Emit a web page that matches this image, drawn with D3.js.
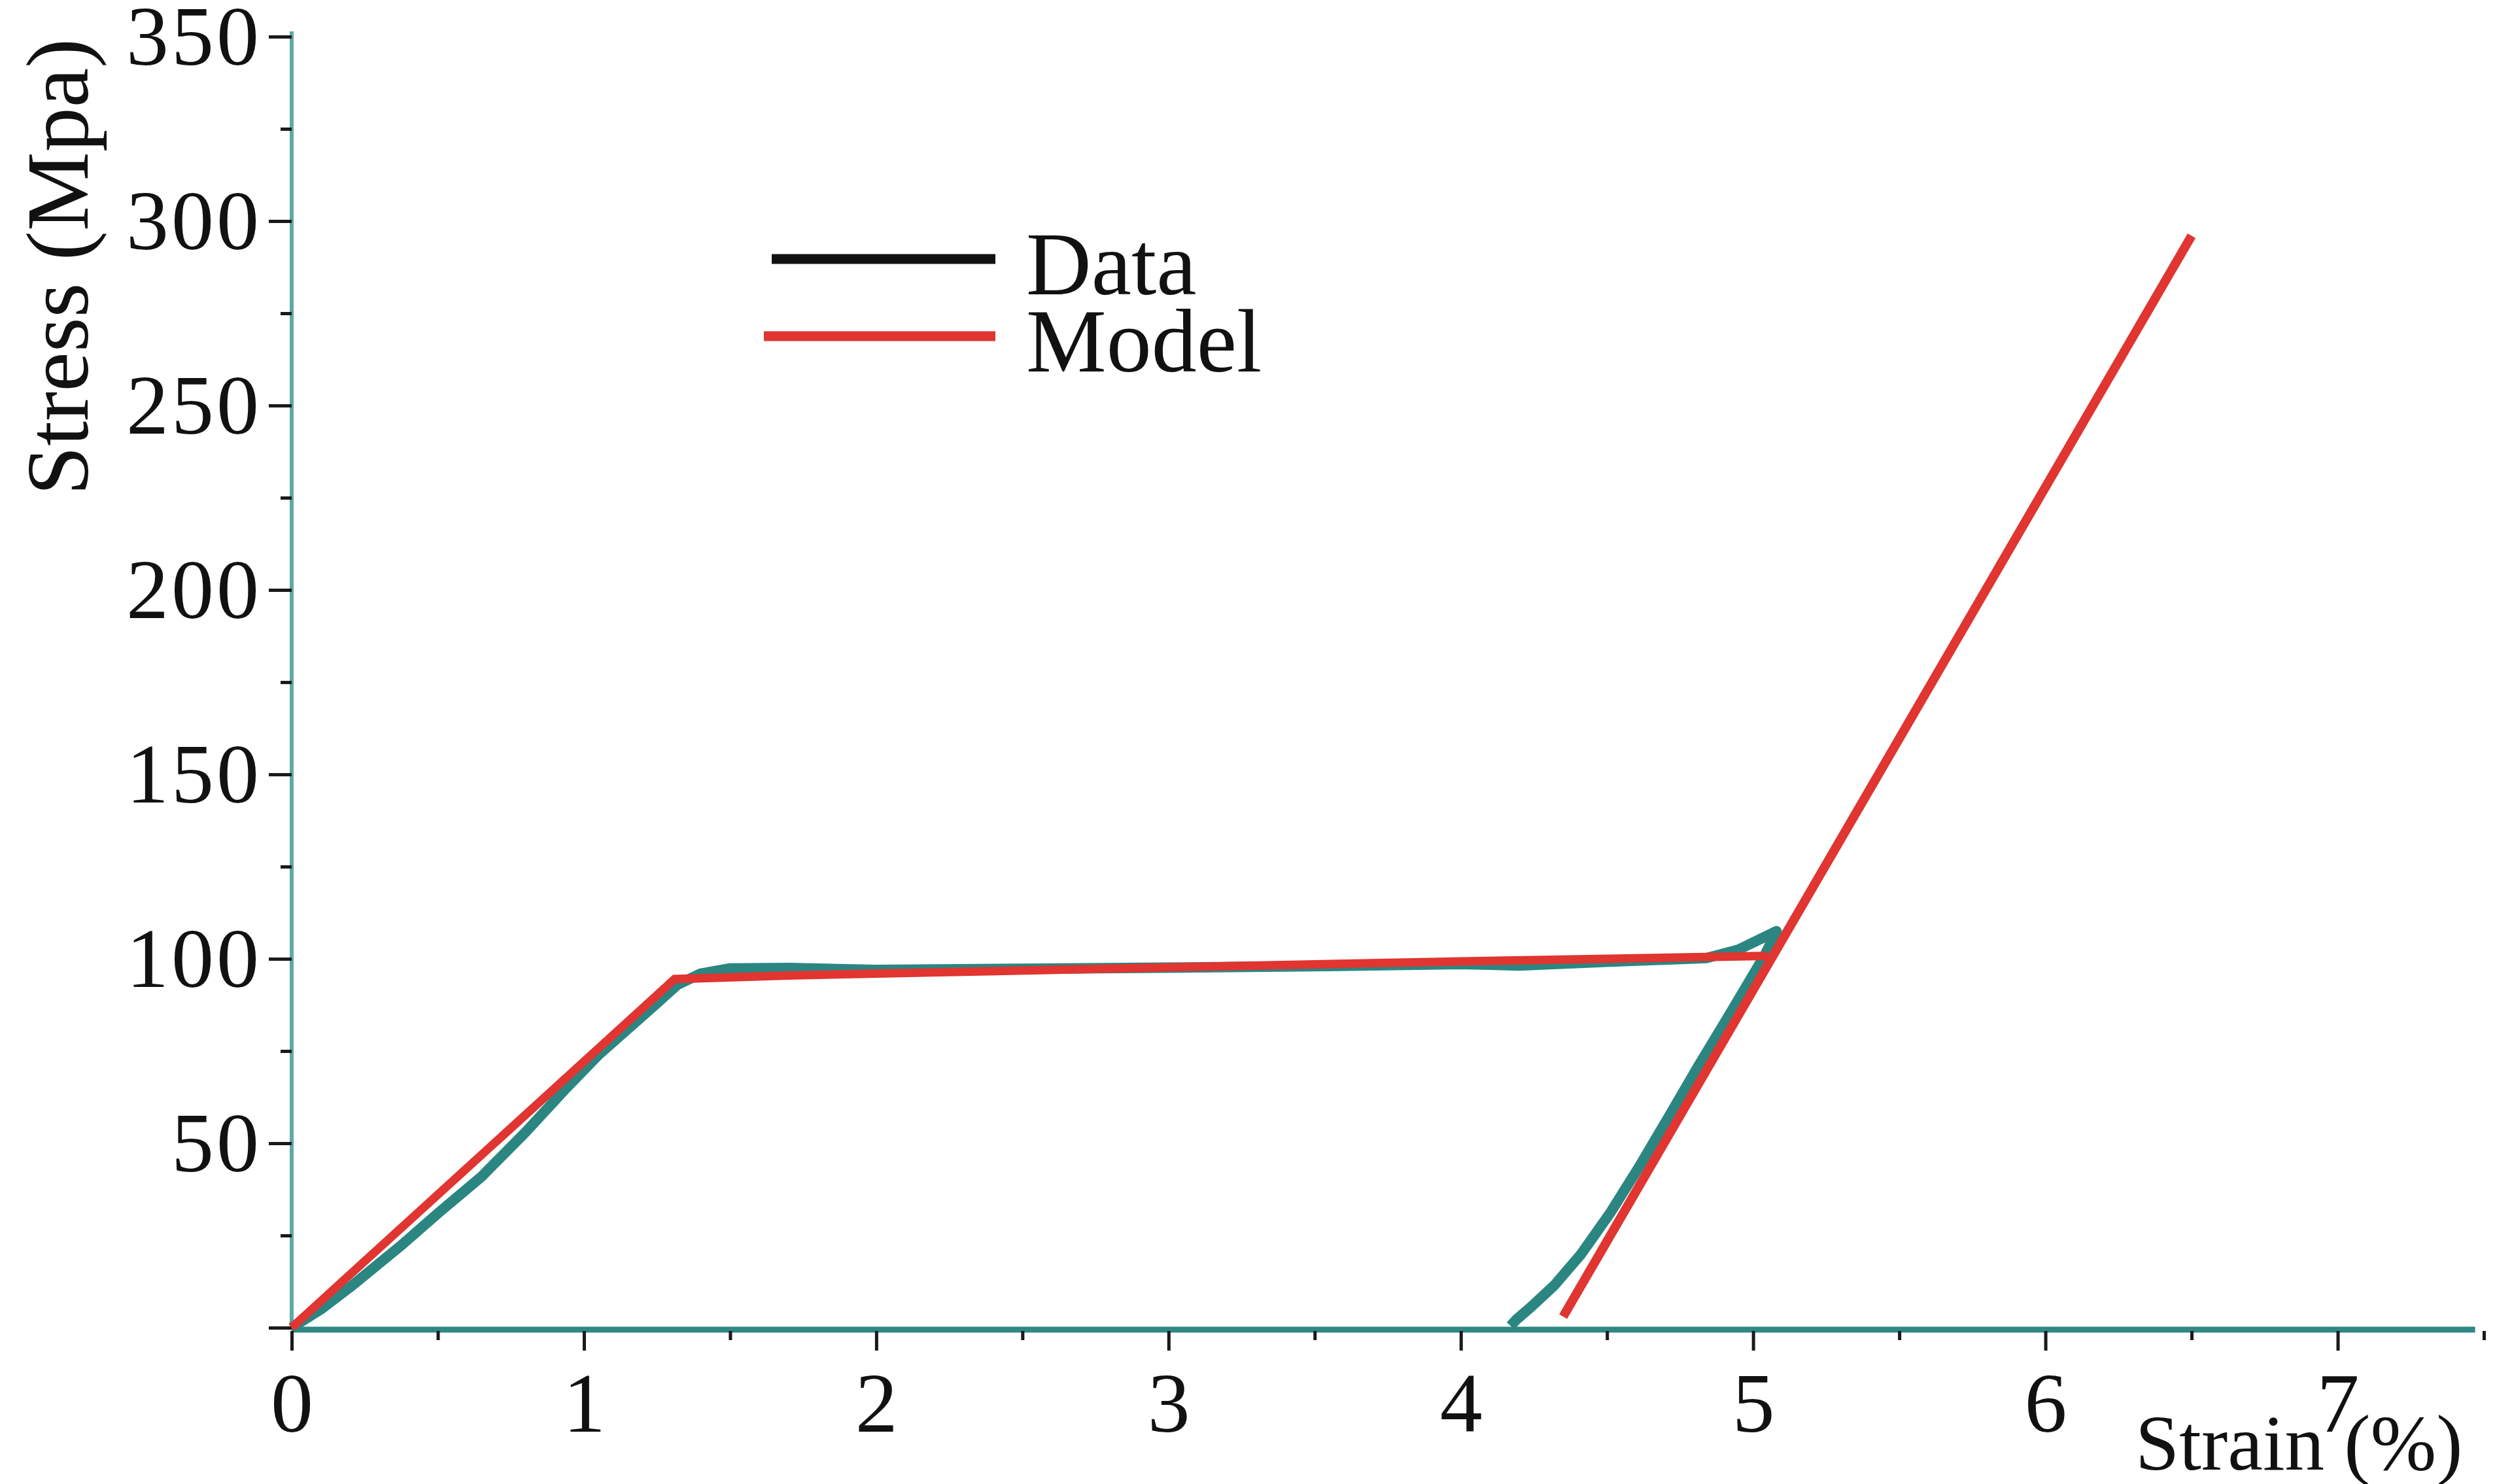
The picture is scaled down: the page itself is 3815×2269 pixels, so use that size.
<!DOCTYPE html>
<html>
<head>
<meta charset="utf-8">
<script src="https://cdn.jsdelivr.net/npm/d3@7"></script>
<style>
  html, body { margin: 0; padding: 0; background: #fff; }
  svg { display: block; font-family: 'Liberation Serif', 'Times New Roman', serif; }
</style>
</head>
<body>
<main></main>
<script>
// measured data (strain %, stress MPa)
const dataStrain = [0, 0.1, 0.2, 0.37, 0.5, 0.65, 0.8, 0.94, 1.05, 1.15, 1.25, 1.32, 1.4, 1.5, 1.7, 2.0, 2.5, 3.0, 3.5, 4.0, 4.2, 4.5, 4.84, 4.95, 5.08, 5.04, 4.92, 4.81, 4.71, 4.61, 4.51, 4.41, 4.32, 4.24, 4.19, 4.17];
const dataStress = [0, 5, 11, 22, 31, 41, 53, 65, 74, 81, 88, 93, 96, 97.4, 97.5, 97, 97.3, 97.6, 98, 98.6, 98.2, 99.2, 100.2, 102.5, 107.5, 101, 85, 70.6, 57, 43.6, 31, 19.8, 11.5, 5.6, 2.2, 0.5];

// model: elastic + plateau branch
const modelStrain = [0, 1.31, 1.7, 2.3, 2.9, 3.5, 4.0, 4.5, 5.05];
const modelStress = [0, 94.5, 95.5, 96.5, 97.5, 98.5, 99.3, 100, 100.8];

// model: reloading branch
const reloadStrain = [4.35, 6.5];
const reloadStress = [3, 296];

// axis ticks
const xMajorTicks = [0, 1, 2, 3, 4, 5, 6, 7];
const xMinorTicks = [0.5, 1.5, 2.5, 3.5, 4.5, 5.5, 6.5, 7.5];
const yMajorTicks = [0, 50, 100, 150, 200, 250, 300, 350];
const yMinorTicks = [25, 75, 125, 175, 225, 275, 325];

const legendLabels = ['Data', 'Model'];
const legendColors = ['#111111', '#e03530'];

// page and plot dimensions
const width = 3815;
const height = 2269;
const plotLeft = 446;
const plotTop = 56;
const plotBottom = 2030;
const plotRight = 3798;

const dataColor = '#2b8682';
const modelColor = '#e03530';
const fontSize = 130;

const svg = d3.select('main')
  .append('svg')
  .attr('width', width)
  .attr('height', height);

svg.append('rect')
  .attr('width', width)
  .attr('height', height)
  .attr('fill', '#fff');

const xScale = d3.scaleLinear()
  .domain([0, 7.5])
  .range([plotLeft, plotRight]);

const yScale = d3.scaleLinear()
  .domain([0, 350])
  .range([plotBottom, plotTop]);

const toPoints = (xs, ys) => xs.map((x, i) => [x, ys[i]]);

const line = d3.line()
  .x(d => xScale(d[0]))
  .y(d => yScale(d[1]));


// axes lines
svg.append('line')
  .attr('x1', xScale(0)).attr('x2', xScale(0))
  .attr('y1', yScale(0)).attr('y2', yScale(350) - 8)
  .attr('stroke', '#5fa9a7')
  .attr('stroke-width', 6);

svg.append('line')
  .attr('x1', xScale(0)).attr('x2', xScale(7.47))
  .attr('y1', yScale(0) + 3).attr('y2', yScale(0) + 3)
  .attr('stroke', '#2f8884')
  .attr('stroke-width', 9);


// x axis ticks
const styleAxis = (g) => {
  g.select('.domain').remove();
  g.selectAll('.tick line').attr('stroke', '#1a1a1a').attr('stroke-width', 5);
  g.selectAll('.tick text')
    .attr('fill', '#111')
    .attr('font-size', fontSize)
    .attr('font-family', "'Liberation Serif', 'Times New Roman', serif");
};

svg.append('g')
  .attr('transform', `translate(0, ${yScale(0) + 5})`)
  .call(d3.axisBottom(xScale).tickValues(xMinorTicks).tickSize(14).tickFormat(''))
  .call(styleAxis);

svg.append('g')
  .attr('transform', `translate(0, ${yScale(0) + 5})`)
  .call(d3.axisBottom(xScale).tickValues(xMajorTicks).tickSize(30).tickFormat(d3.format('d')))
  .call(styleAxis)
  .call(g => g.selectAll('.tick text').attr('y', 62).attr('dy', '0.71em'));


// y axis ticks
svg.append('g')
  .attr('transform', `translate(${xScale(0)}, 0)`)
  .call(d3.axisLeft(yScale).tickValues(yMinorTicks).tickSize(17).tickFormat(''))
  .call(styleAxis);

svg.append('g')
  .attr('transform', `translate(${xScale(0)}, 0)`)
  .call(d3.axisLeft(yScale).tickValues(yMajorTicks).tickSize(35).tickFormat(d => d === 0 ? '' : d))
  .call(styleAxis)
  .call(g => g.selectAll('.tick text').attr('x', -46).attr('dy', '0.33em').attr('letter-spacing', 4));


// axis titles
svg.append('text')
  .text('Stress (Mpa)')
  .attr('transform', `translate(134, 408) rotate(-90)`)
  .attr('text-anchor', 'middle')
  .attr('font-size', 136)
  .attr('fill', '#111');

svg.append('text')
  .text('Strain (%)')
  .attr('x', 3265)
  .attr('y', 2247)
  .attr('font-size', 121)
  .attr('fill', '#111');


// data and model curves
svg.append('path')
  .datum(toPoints(dataStrain, dataStress))
  .attr('d', line)
  .attr('fill', 'none')
  .attr('stroke', dataColor)
  .attr('stroke-width', 16)
  .attr('stroke-linejoin', 'round');

svg.append('path')
  .datum(toPoints(modelStrain, modelStress))
  .attr('d', line)
  .attr('fill', 'none')
  .attr('stroke', modelColor)
  .attr('stroke-width', 13);

svg.append('path')
  .datum(toPoints(reloadStrain, reloadStress))
  .attr('d', line)
  .attr('fill', 'none')
  .attr('stroke', modelColor)
  .attr('stroke-width', 14);


// legend
const legend = svg.append('g')
  .selectAll('g')
  .data(legendLabels)
  .enter()
  .append('g')
  .attr('transform', (d, i) => `translate(0, ${i * 118})`);

legend.append('line')
  .attr('x1', (d, i) => i === 0 ? 1180 : 1168)
  .attr('x2', 1522)
  .attr('y1', 396)
  .attr('y2', 396)
  .attr('stroke', (d, i) => legendColors[i])
  .attr('stroke-width', 15);

legend.append('text')
  .text(d => d)
  .attr('x', 1569)
  .attr('y', 450)
  .attr('font-size', 138)
  .attr('fill', '#111');
</script>
</body>
</html>
